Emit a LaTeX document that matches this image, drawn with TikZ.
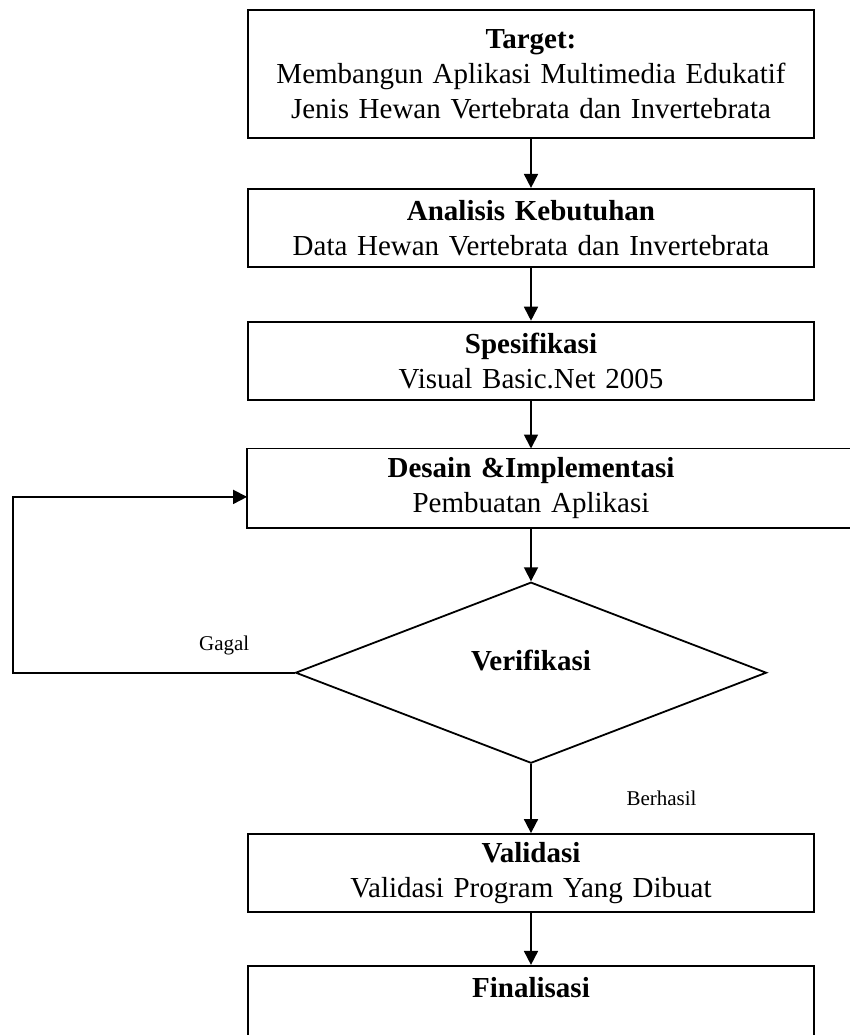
\documentclass[tikz,border=0pt]{standalone}
\usepackage{fontspec}
\setmainfont{Liberation Serif}
\usetikzlibrary{positioning,shapes.geometric,arrows.meta}

\begin{document}
\begin{tikzpicture}[line width=0.9pt,
	stage/.style = {shape=rectangle, draw, align=center, text width=275pt,
		inner xsep=4pt, inner ysep=2pt, minimum height=39pt,
		font=\fontsize{14.5}{17.5}\selectfont},
	check/.style = {shape=diamond, draw, minimum width=235.5pt,
		minimum height=90.5pt, inner sep=0pt,
		font=\fontsize{14.5}{17.5}\selectfont\bfseries},
	flow/.style = {-{Triangle[length=7pt,width=7pt]}},
	note/.style = {font=\fontsize{10.5}{12.5}\selectfont}]
	\useasboundingbox (0,0) rectangle (425pt,-517.5pt);
	\node[stage, minimum height=64pt] (target) at (265.5pt,-37pt)
		{\textbf{Target:}\\ Membangun Aplikasi Multimedia Edukatif\\ Jenis Hewan Vertebrata dan Invertebrata};
	\node[stage, below=24.5pt of target] (analisis)
		{\textbf{Analisis Kebutuhan}\\ Data Hewan Vertebrata dan Invertebrata};
	\node[stage, below=26.5pt of analisis] (spek)
		{\textbf{Spesifikasi}\\ Visual Basic.Net 2005};
	\node[stage, draw=none, below=24pt of spek] (desain)
		{\textbf{Desain \&Implementasi}\\ Pembuatan Aplikasi};
	\draw (desain.north west) rectangle ([xshift=60pt]desain.south east);
	\node[check, below=26.5pt of desain] (verif) {\raisebox{6pt}[\height][\depth]{Verifikasi}};
	\node[stage, below=34.5pt of verif] (validasi)
		{\textbf{Validasi}\\ Validasi Program Yang Dibuat};
	\node[stage, below=26pt of validasi] (final) {\textbf{Finalisasi}\\ \mbox{}};
	\coordinate (back) at (6.5pt,0);

	\draw[flow] (target) -- (analisis);
	\draw[flow] (analisis) -- (spek);
	\draw[flow] (spek) -- (desain);
	\draw[flow] (desain) -- (verif);
	\draw[flow] (verif) -- node[note, right=44pt] {Berhasil} (validasi);
	\draw[flow] (validasi) -- (final);
	% jalur kembali jika gagal
	\draw[flow] (verif.west) -- node[note, above=5pt, pos=0.25] {Gagal}
		(verif.west -| back) |- ([yshift=-4.25pt]desain.west);
\end{tikzpicture}
\end{document}
